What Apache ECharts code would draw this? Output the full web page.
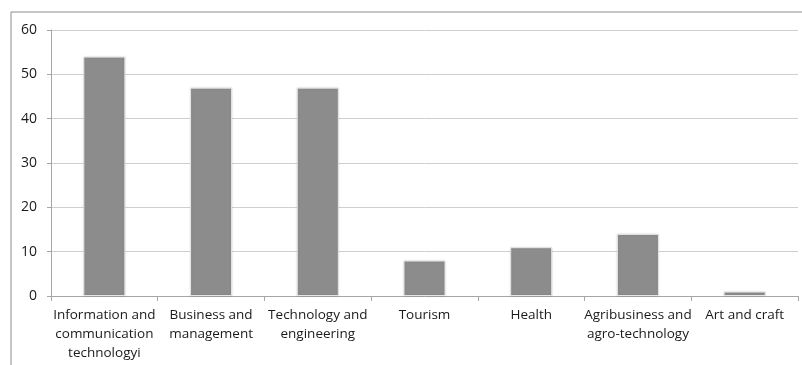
<!DOCTYPE html>
<html>
<head>
<meta charset="utf-8">
<script src="https://cdn.jsdelivr.net/npm/echarts@6/dist/echarts.min.js"></script>
<style>
  html, body { margin: 0; padding: 0; background: #fff; }
  #chart { width: 802px; height: 365px; }
</style>
</head>
<body>
<div id="chart"></div>
<script>
const categories = [
  'Information and\ncommunication\ntechnologyi',
  'Business and\nmanagement',
  'Technology and\nengineering',
  'Tourism',
  'Health',
  'Agribusiness and\nagro-technology',
  'Art and craft'
]
const counts = [54, 47, 47, 8, 11, 14, 1]
const yTicks = [0, 10, 20, 30, 40, 50, 60]

const chart = echarts.init(document.getElementById('chart'))
const font = 'Open Sans, sans-serif'

chart.setOption({
  animation: false,
  graphic: [{
    type: 'rect',
    shape: { x: 11, y: 12, width: 900, height: 500 },
    style: { fill: 'none', stroke: '#8c8c8c', lineWidth: 1 },
    silent: true
  }],
  grid: { left: 51, right: 4, top: 30, bottom: 69 },
  xAxis: {
    type: 'category',
    data: categories,
    axisLine: { lineStyle: { color: '#a6a6a6' } },
    axisTick: { show: true, length: 5, lineStyle: { color: '#a6a6a6' } },
    axisLabel: {
      interval: 0,
      color: '#1a1a1a',
      fontFamily: font,
      fontSize: 13.5,
      lineHeight: 19,
      margin: 10
    }
  },
  yAxis: {
    type: 'value',
    min: yTicks[0],
    max: yTicks[yTicks.length - 1],
    interval: 10,
    axisLine: { show: true, lineStyle: { color: '#a6a6a6' } },
    axisTick: { show: true, length: 4, lineStyle: { color: '#a6a6a6' } },
    axisLabel: { color: '#1a1a1a', fontFamily: font, fontSize: 14, margin: 14 },
    splitLine: { lineStyle: { color: '#cfcfcf' } }
  },
  series: [{
    type: 'bar',
    data: counts,
    barWidth: 42,
    itemStyle: {
      color: '#8c8c8c',
      borderColor: '#e6e6e6',
      borderWidth: 1,
      shadowColor: 'rgba(0,0,0,0.12)',
      shadowBlur: 2
    }
  }]
})
</script>
</body>
</html>
